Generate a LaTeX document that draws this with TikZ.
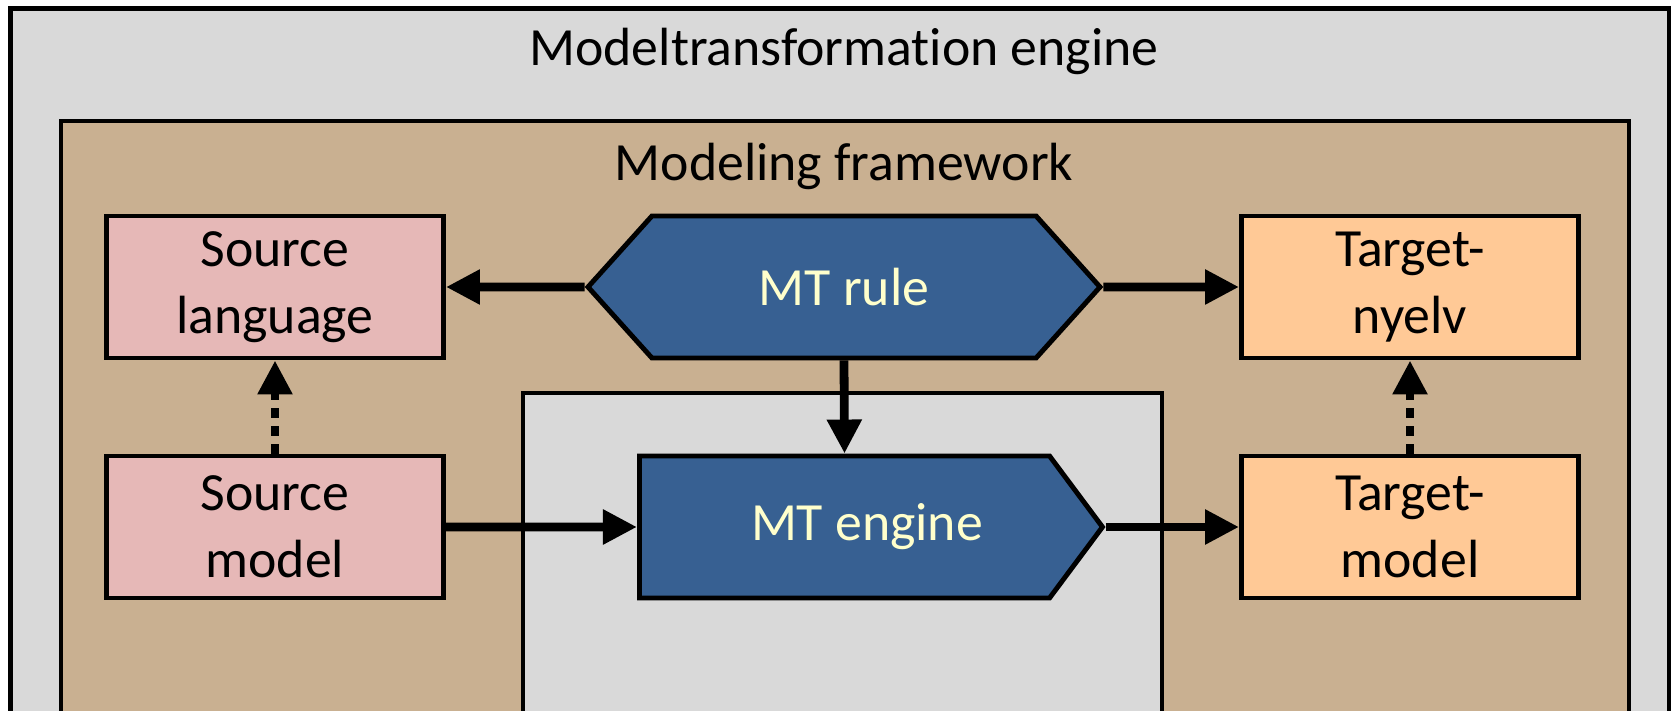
\documentclass[tikz,border=0pt]{standalone}
\usepackage{fontspec}
\setmainfont{Carlito}[Ligatures=NoCommon]
\usepackage{xcolor}
\usepackage{tikz}
\usetikzlibrary{positioning,arrows.meta,shapes.symbols}

\definecolor{enginegray}{HTML}{D9D9D9}
\definecolor{frametan}{HTML}{C9B091}
\definecolor{srcpink}{HTML}{E6B8B7}
\definecolor{tgtorange}{HTML}{FFC996}
\definecolor{mtblue}{HTML}{376092}
\definecolor{mtyellow}{HTML}{FFFFCC}

\begin{document}
\begin{tikzpicture}[
    txt/.style={font=\fontsize{15.3}{19}\selectfont,align=center},
    box/.style={txt,draw,line width=1.4pt,minimum width=3.37cm,minimum height=1.42cm},
    mtbox/.style={txt,signal,draw,line width=1.4pt,fill=mtblue,text=mtyellow,minimum height=1.42cm},
    flow/.style={line width=2.5pt,-{Triangle[length=0.34cm,width=0.33cm]}},
    link/.style={flow,dash pattern=on 0.1cm off 0.08cm}
]
    \useasboundingbox (0,0) rectangle (16.75,-7.11);
    \clip (0,0) rectangle (16.75,-7.11);
    % Frames
    \draw[line width=1.4pt,fill=enginegray] (0.107,-0.085) rectangle (16.69,-8);
    \node[txt] (outer) at (8.44,-0.51) {Modeltransformation engine};
    \draw[line width=1.4pt,fill=frametan] (0.61,-1.21) rectangle (16.29,-8);
    \node[txt] (frame) at (8.44,-1.66) {Modeling framework};
    \draw[line width=1.4pt,fill=enginegray] (5.23,-3.93) rectangle (11.62,-8);
    % Languages and models
    \node[box,fill=srcpink] (srclang) at (2.75,-2.87) {Source\\language};
    \node[box,fill=srcpink] (srcmodel) at (2.75,-5.27) {Source\\model};
    \node[box,fill=tgtorange] (tgtlang) at (14.10,-2.87) {Target-\\nyelv};
    \node[box,fill=tgtorange] (tgtmodel) at (14.10,-5.27) {Target-\\model};
    % Rule and engine
    \node[mtbox,signal to=west and east,signal pointer angle=96,minimum width=5.12cm] (rule) at (8.44,-2.87) {MT rule};
    \node[mtbox,signal to=east,signal pointer angle=106.6,minimum width=4.63cm,anchor=west] (engine) at (6.37,-5.27) {\hspace{0.45cm}MT engine};
    % Connectors
    \draw[flow] (rule) -- (srclang);
    \draw[flow] (rule) -- (tgtlang);
    \draw[flow] (rule.south) -- (engine.north);
    \draw[flow] (srcmodel) -- (engine);
    \draw[flow] (engine.east) -- (tgtmodel);
    \draw[link] (srcmodel) -- (srclang);
    \draw[link] (tgtmodel) -- (tgtlang);
\end{tikzpicture}
\end{document}
